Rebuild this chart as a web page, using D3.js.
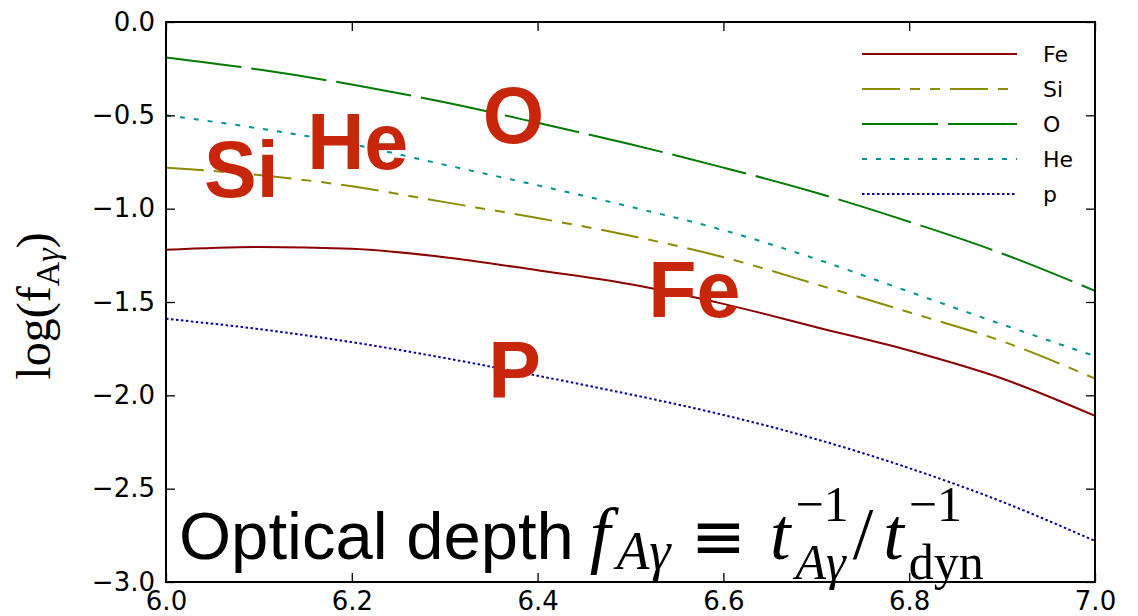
<!DOCTYPE html>
<html>
<head>
<meta charset="utf-8">
<script src="https://cdn.jsdelivr.net/npm/d3@7"></script>
<style>
  html, body { margin: 0; padding: 0; background: #fff; }
  svg { display: block; }
</style>
</head>
<body>
<svg id="chart" width="1138" height="616"></svg>
<script>
// log10 of the photon energy grid (x) and log(f_Aγ) for each species
const xGrid  = [6.0, 6.1, 6.2, 6.3, 6.4, 6.5, 6.6, 6.7, 6.8, 6.9, 7.0];
const feVals = [-1.22, -1.205, -1.215, -1.26, -1.33, -1.405, -1.51, -1.635, -1.76, -1.91, -2.11];
const siVals = [-0.78, -0.82, -0.88, -0.965, -1.05, -1.145, -1.26, -1.405, -1.555, -1.71, -1.91];
const oVals  = [-0.19, -0.255, -0.335, -0.43, -0.54, -0.655, -0.78, -0.915, -1.07, -1.24, -1.44];
const heVals = [-0.50, -0.57, -0.655, -0.765, -0.875, -0.99, -1.115, -1.27, -1.445, -1.62, -1.79];
const pVals  = [-1.59, -1.645, -1.715, -1.80, -1.895, -1.995, -2.105, -2.235, -2.39, -2.57, -2.78];

const seriesNames = ["Fe", "Si", "O", "He", "p"];
const xTicks = [6.0, 6.2, 6.4, 6.6, 6.8, 7.0];
const yTicks = [0.0, -0.5, -1.0, -1.5, -2.0, -2.5, -3.0];

// in-plot element labels: [text, x, log f]
const elementLabels = [
  ["Si", 6.041, -0.94],
  ["He", 6.152, -0.785],
  ["O",  6.341, -0.65],
  ["Fe", 6.519, -1.58],
  ["P",  6.347, -2.01]
];

const seriesValues = [feVals, siVals, oVals, heVals, pVals];
const styles = {
  Fe: { color: "#8b0000", dash: null },
  Si: { color: "#8c8c00", dash: "38,10,10,10,10,10" },
  O:  { color: "#007a00", dash: "76,10" },
  He: { color: "#009393", dash: "5,9" },
  p:  { color: "#0000a0", dash: "2.5,2.5" }
};

const plot = { left: 166, right: 1095, top: 22, bottom: 582 };

const svg = d3.select("#chart");
const x = d3.scaleLinear().domain([6, 7]).range([plot.left, plot.right]);
const y = d3.scaleLinear().domain([-3, 0]).range([plot.bottom, plot.top]);

svg.append("defs").append("clipPath").attr("id", "plotclip")
  .append("rect")
  .attr("x", plot.left).attr("y", plot.top)
  .attr("width", plot.right - plot.left).attr("height", plot.bottom - plot.top);

// curves
const line = d3.line()
  .x(d => x(d[0]))
  .y(d => y(d[1]))
  .curve(d3.curveMonotoneX);

const curves = svg.append("g").attr("clip-path", "url(#plotclip)");
seriesNames.forEach((name, i) => {
  const pts = xGrid.map((xv, j) => [xv, seriesValues[i][j]]);
  curves.append("path")
    .datum(pts)
    .attr("d", line)
    .attr("fill", "none")
    .attr("stroke", styles[name].color)
    .attr("stroke-width", 2)
    .attr("stroke-dasharray", styles[name].dash);
});

// axes with inward ticks on all four sides
const fmt = d3.format(".1f");
const tickLen = 9;
function styleAxis(g) {
  g.select(".domain").remove();
  g.selectAll(".tick line").attr("stroke", "#000").attr("stroke-width", 1.3);
  g.selectAll(".tick text")
    .attr("font-family", "'DejaVu Sans', sans-serif")
    .attr("font-size", 26)
    .attr("fill", "#000");
}
svg.append("g").attr("transform", `translate(${plot.left},0)`)
  .call(d3.axisLeft(y).tickValues(yTicks).tickFormat(fmt).tickSizeInner(-tickLen).tickSizeOuter(0).tickPadding(11))
  .call(styleAxis);
svg.append("g").attr("transform", `translate(${plot.right},0)`)
  .call(d3.axisRight(y).tickValues(yTicks).tickFormat("").tickSizeInner(-tickLen).tickSizeOuter(0))
  .call(styleAxis);
svg.append("g").attr("transform", `translate(0,${plot.bottom})`)
  .call(d3.axisBottom(x).tickValues(xTicks).tickFormat(fmt).tickSizeInner(-tickLen).tickSizeOuter(0).tickPadding(10))
  .call(styleAxis);
svg.append("g").attr("transform", `translate(0,${plot.top})`)
  .call(d3.axisTop(x).tickValues(xTicks).tickFormat("").tickSizeInner(-tickLen).tickSizeOuter(0))
  .call(styleAxis);

svg.append("rect")
  .attr("x", plot.left).attr("y", plot.top)
  .attr("width", plot.right - plot.left).attr("height", plot.bottom - plot.top)
  .attr("fill", "none").attr("stroke", "#000").attr("stroke-width", 2);

// legend (no frame)
const legend = svg.append("g");
seriesNames.forEach((name, i) => {
  const yy = 54 + i * 35;
  legend.append("line")
    .attr("x1", 862).attr("x2", 1017).attr("y1", yy).attr("y2", yy)
    .attr("stroke", styles[name].color).attr("stroke-width", 2)
    .attr("stroke-dasharray", styles[name].dash);
  legend.append("text")
    .attr("x", 1043).attr("y", yy + 8)
    .attr("font-family", "'DejaVu Sans', sans-serif")
    .attr("font-size", 22)
    .attr("fill", "#000")
    .text(name);
});

// big element labels
svg.append("g").selectAll("text")
  .data(elementLabels)
  .join("text")
  .attr("x", d => x(d[1]))
  .attr("y", d => y(d[2]))
  .attr("font-family", "'Liberation Sans', Arial, sans-serif")
  .attr("font-weight", "bold")
  .attr("font-size", 79)
  .attr("fill", "#c8260a")
  .text(d => d[0]);

// y-axis label: log(f_{Aγ})
const serif = "'Liberation Serif', 'DejaVu Serif', serif";
const ylab = svg.append("text")
  .attr("transform", "translate(50,306) rotate(-90)")
  .attr("text-anchor", "middle")
  .attr("font-family", serif)
  .attr("font-size", 48)
  .attr("fill", "#000");
ylab.append("tspan").text("log(f");
ylab.append("tspan").attr("font-size", 34).attr("dy", 9).text("A");
ylab.append("tspan").attr("font-size", 34).attr("font-style", "italic").text("γ");
ylab.append("tspan").attr("dy", -9).text(")");

// caption: Optical depth f_{Aγ} ≡ t^{-1}_{Aγ} / t^{-1}_{dyn}
const cap = svg.append("g");
const base = 559;
let cx = 179;
function piece(txt, opts) {
  const t = cap.append("text")
    .attr("x", opts.x !== undefined ? opts.x : cx)
    .attr("y", base + (opts.dy || 0))
    .attr("font-family", opts.family || serif)
    .attr("font-size", opts.size || 70)
    .attr("font-style", opts.italic ? "italic" : "normal")
    .attr("fill", "#000")
    .text(txt);
  return t.node().getComputedTextLength();
}
const scriptSize = 50;
cx += piece("Optical depth", { family: "'Liberation Sans', Arial, sans-serif", size: 67 });
cx += 16;
cx += piece("f", { italic: true, size: 74 }) + 6;
cx += piece("Aγ", { italic: true, size: 54, dy: 10 });
cx += 20;
cx += piece("≡", { family: "'DejaVu Sans', sans-serif", size: 66 });
cx += 24;
cx += piece("t", { italic: true, size: 74 }) + 5;
{
  const sx = cx;
  const w1 = piece("−1", { size: scriptSize, dy: -38, x: sx });
  const w2 = piece("Aγ", { italic: true, size: scriptSize, dy: 20, x: sx });
  cx = sx + Math.max(w1, w2) + 4;
}
cx += piece("/", { size: 74 }) + 10;
cx += piece("t", { italic: true, size: 74 }) + 5;
{
  const sx = cx;
  piece("−1", { size: scriptSize, dy: -38, x: sx });
  piece("dyn", { size: scriptSize, dy: 20, x: sx });
}
</script>
</body>
</html>
